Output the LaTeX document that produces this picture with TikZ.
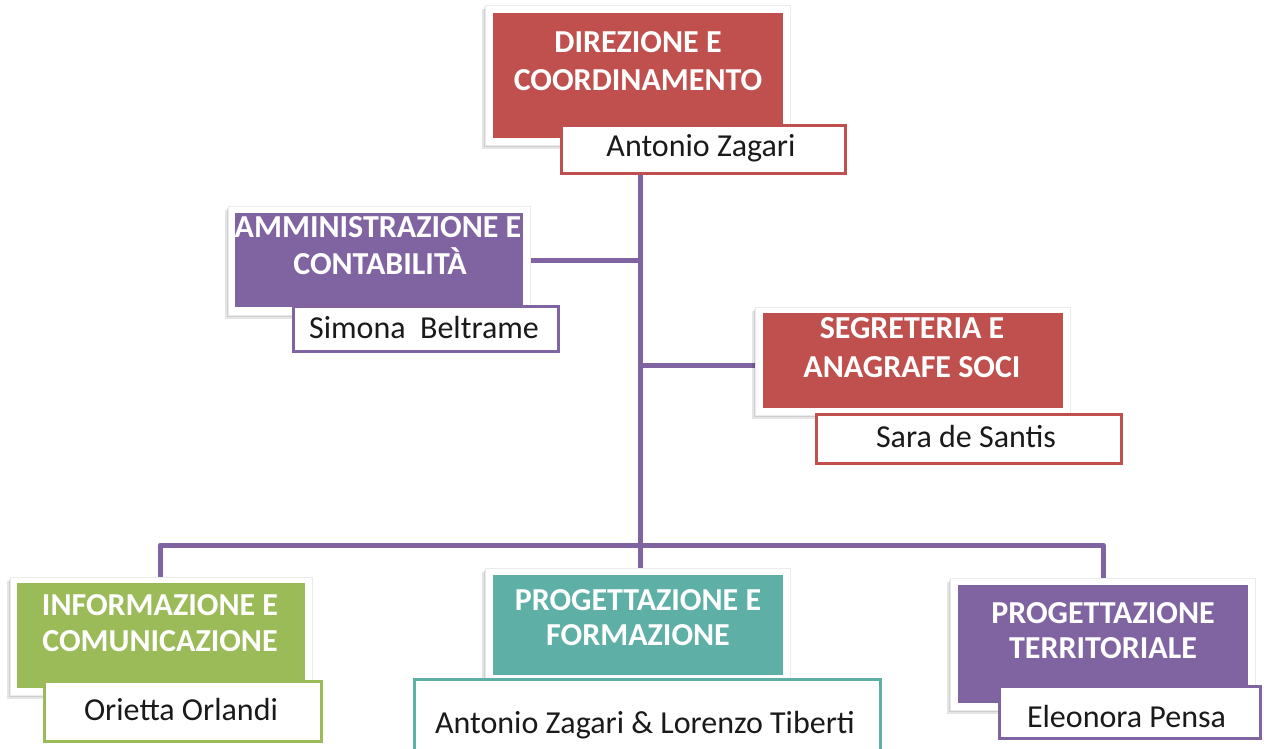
\documentclass[tikz,border=0pt]{standalone}
\usepackage{fontspec}
\setmainfont{Carlito}
\usetikzlibrary{backgrounds}
\definecolor{cred}{HTML}{C0504D}
\definecolor{cpurple}{HTML}{8064A2}
\definecolor{cgreen}{HTML}{9BBB59}
\definecolor{cteal}{HTML}{5EAFA5}
\definecolor{ctext}{HTML}{1A1A1A}
\begin{document}
\begin{tikzpicture}[x=1pt,y=-1pt,
 frame/.style={draw=black!8,fill=white,line width=0.8pt,
   preaction={fill=black,opacity=0.10,transform canvas={xshift=-1.5pt,yshift=-2pt}},
   preaction={fill=black,opacity=0.10,transform canvas={xshift=-3pt,yshift=-4pt}},
   inner sep=0pt,outer sep=0pt},
 head/.style={fill=#1,draw=none,inner sep=0pt,outer sep=0pt},
 namebox/.style={draw=#1,fill=white,line width=3pt,inner sep=0pt,outer sep=0pt},
 ttl/.style={text=white,font=\fontsize{32}{38}\selectfont\bfseries,anchor=base,inner sep=0pt},
 nm/.style={text=ctext,font=\fontsize{32}{38}\selectfont,anchor=base,inner sep=0pt},
 conn/.style={draw=cpurple,line width=5pt,line join=round}]
\useasboundingbox (0,0) rectangle (1264,749);

% Direzione
\node[frame,minimum width=305pt,minimum height=140pt] (dirf) at (637.5,75) {};
\node[head=cred,minimum width=290pt,minimum height=125pt] (dir) at (638,75.5) {};
\node[ttl] (dirt1) at (638,53) {DIREZIONE E};
\node[ttl] (dirt2) at (638,91) {COORDINAMENTO};
\node[namebox=cred,minimum width=284pt,minimum height=48pt] (dirn) at (703.5,149.5) {};
\node[nm] (dirnt) at (701,157) {Antonio Zagari};

% Amministrazione
\node[frame,minimum width=302pt,minimum height=109pt] (ammf) at (379,260.5) {};
\node[head=cpurple,minimum width=288pt,minimum height=94pt] (amm) at (379,260) {};
\node[ttl] (ammt1) at (378,237) {AMMINISTRAZIONE E};
\node[ttl] (ammt2) at (380,274) {CONTABILITÀ};
\node[namebox=cpurple,minimum width=265pt,minimum height=45pt] (ammn) at (426,329) {};
\node[nm] (ammnt) at (424,338) {Simona\ \ Beltrame};

% Segreteria
\node[frame,minimum width=315pt,minimum height=108pt] (segf) at (912.5,361) {};
\node[head=cred,minimum width=300pt,minimum height=95pt] (seg) at (913,360.5) {};
\node[ttl] (segt1) at (912,338) {SEGRETERIA E};
\node[ttl] (segt2) at (912,377) {ANAGRAFE SOCI};
\node[namebox=cred,minimum width=305pt,minimum height=49pt] (segn) at (969,439) {};
\node[nm] (segnt) at (966,447) {Sara de Santis};

% Informazione
\node[frame,minimum width=302pt,minimum height=118pt] (inff) at (161,636) {};
\node[head=cgreen,minimum width=288pt,minimum height=105pt] (inf) at (161,635.5) {};
\node[ttl] (inft1) at (160,615) {INFORMAZIONE E};
\node[ttl] (inft2) at (160,651) {COMUNICAZIONE};
\node[namebox=cgreen,minimum width=277pt,minimum height=60pt] (infn) at (183,711.5) {};
\node[nm] (infnt) at (181,720) {Orietta Orlandi};

% Progettazione e formazione
\node[frame,minimum width=305pt,minimum height=122pt] (prof) at (637.5,629) {};
\node[head=cteal,minimum width=290pt,minimum height=100pt] (pro) at (638,625) {};
\node[ttl] (prot1) at (638,610) {PROGETTAZIONE E};
\node[ttl] (prot2) at (638,645) {FORMAZIONE};
\node[namebox=cteal,minimum width=466pt,minimum height=84pt] (pron) at (647.5,721.5) {};
\node[nm] (pront) at (645,733) {Antonio Zagari \& Lorenzo Tiberti};

% Progettazione territoriale
\node[frame,minimum width=305pt,minimum height=132pt] (terf) at (1102.5,644) {};
\node[head=cpurple,minimum width=290pt,minimum height=118pt] (ter) at (1103,644) {};
\node[ttl] (tert1) at (1103,623) {PROGETTAZIONE};
\node[ttl] (tert2) at (1103,658) {TERRITORIALE};
\node[namebox=cpurple,minimum width=261pt,minimum height=52pt] (tern) at (1130,712.5) {};
\node[nm] (ternt) at (1126.5,727) {Eleonora Pensa};

% connectors
\coordinate (t0) at (640,150);
\coordinate (bus) at (640,545);
\coordinate (busL) at (160,545);
\coordinate (busR) at (1103,545);
\begin{scope}[on background layer]
\draw[conn] (t0) -- (bus);
\draw[conn] (ammf.east) -- (ammf.east -| bus);
\draw[conn] ([yshift=-4pt]segf.west) -- ([yshift=-4pt]segf.west -| bus);
\draw[conn] (inff.north -| busL) -- (busL) -- (busR) -- (terf.north -| busR);
\draw[conn] (bus) -- (prof.north -| bus);
\end{scope}
\end{tikzpicture}
\end{document}
